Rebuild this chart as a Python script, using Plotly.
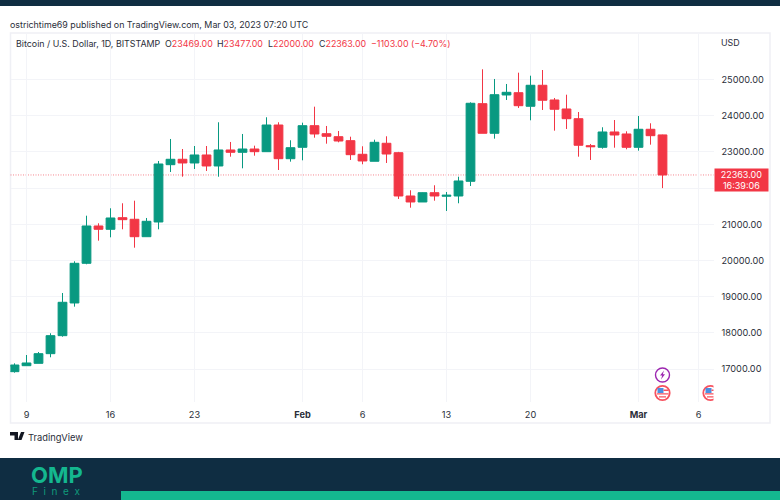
import pandas as pd
import plotly.graph_objects as go

W, H = 780, 500
GREEN = "#089981"
RED = "#F23645"
NAVY = "#0F2D42"
TEAL = "#14B78F"
GRID = "#F3F4F8"
FRAME = "#EFF0F5"
TEXT = "#2A2E39"
FONT = "Inter"

dates = pd.date_range("2023-01-08", "2023-03-03")
opens = [16930, 17095, 17160, 17427, 17924, 18827, 19923, 20954, 20862, 21183, 21139, 20658, 21064, 22647,
         22796, 22694, 22915, 22611, 23053, 22989, 23080, 23006, 23743, 22812, 23127, 23724, 23503, 23420,
         23310, 22934, 22741, 23238, 22978, 21782, 21617, 21873, 21775, 21782, 22188, 24332, 23514, 24572,
         24635, 24260, 24840, 24434, 24185, 23917, 23172, 23127, 23550, 23495, 23127, 23625, 23469]
highs = [17160, 17390, 17473, 17990, 19103, 19979, 21238, 21028, 21443, 21581, 21652, 21175, 22749, 23357,
         23080, 23163, 23163, 23818, 23274, 23495, 23172, 23956, 23818, 23321, 23807, 24249, 23716, 23578,
         23420, 23155, 23337, 23431, 23000, 21940, 21880, 22078, 21893, 22315, 24370, 25282, 25014, 24876,
         25188, 25105, 25262, 24489, 24580, 24102, 23219, 23680, 23881, 23569, 23992, 23790, 23477]
lows = [16902, 17095, 17160, 17327, 17896, 18725, 19896, 20548, 20641, 20862, 20354, 20658, 20862, 22445,
        22315, 22528, 22473, 22315, 22868, 22547, 22895, 23006, 22500, 22730, 22768, 23392, 23227, 23265,
        22777, 22658, 22741, 22694, 21700, 21459, 21617, 21652, 21368, 21581, 22058, 23514, 23365, 24434,
        24213, 23873, 24158, 23586, 23633, 22868, 22777, 23089, 23116, 23072, 23034, 23200, 22000]
closes = [17114, 17170, 17427, 17924, 18846, 19923, 20954, 20862, 21175, 21128, 20658, 21083, 22666, 22796,
          22694, 22915, 22611, 23053, 22989, 23080, 23006, 23743, 22812, 23116, 23724, 23495, 23431, 23301,
          22923, 22749, 23265, 22942, 21782, 21617, 21873, 21782, 21802, 22197, 24343, 23514, 24580, 24646,
          24276, 24840, 24426, 24177, 23917, 23183, 23144, 23550, 23467, 23127, 23625, 23448, 22363]

price_ticks = [17000, 18000, 19000, 20000, 21000, 22000, 23000, 24000, 25000]
# 22000 sits behind the last-price tag, so only its gridline shows
price_labels = ["17000.00", "18000.00", "19000.00", "20000.00", "21000.00", "", "23000.00", "24000.00", "25000.00"]
time_ticks = ["2023-01-09", "2023-01-16", "2023-01-23", "2023-02-01", "2023-02-06",
              "2023-02-13", "2023-02-20", "2023-03-01", "2023-03-06"]
time_labels = ["9", "16", "23", "<b>Feb</b>", "6", "13", "20", "<b>Mar</b>", "6"]
last_price = closes[-1]


def px(x):
    return x / W


def py(y):
    return 1 - y / H


def box(x0, y0, x1, y1, color, line=None, layer="below"):
    return dict(type="rect", xref="paper", yref="paper", x0=px(x0), x1=px(x1), y0=py(y0), y1=py(y1),
                fillcolor=color, line=line or dict(width=0), layer=layer)


def note(x, y, text, size=8.9, color=TEXT, anchor="left", family=FONT):
    return dict(xref="paper", yref="paper", x=px(x), y=py(y), text=text, showarrow=False, xanchor=anchor,
                yanchor="middle", align="left", font=dict(family=family, size=size, color=color), borderpad=0, borderwidth=0)


def poly(points, color):
    path = "M" + " L".join(f"{px(a):.5f},{py(b):.5f}" for a, b in points) + " Z"
    return dict(type="path", xref="paper", yref="paper", path=path, fillcolor=color, line=dict(width=0), layer="above")


def icon_circle(day, y, r, fill, edge, width):
    return dict(type="circle", xref="x", yref="paper", xsizemode="pixel", ysizemode="pixel", xanchor=day, yanchor=py(y),
                x0=-r, x1=r, y0=-r, y1=r, fillcolor=fill, line=dict(color=edge, width=width), layer="above")


def icon_rect(day, y, x0, x1, y0, y1, fill):
    return dict(type="rect", xref="x", yref="paper", xsizemode="pixel", ysizemode="pixel", xanchor=day, yanchor=py(y),
                x0=x0, x1=x1, y0=y0, y1=y1, fillcolor=fill, line=dict(width=0), layer="above")


def flag_icon(day, y):
    return [
        icon_circle(day, y, 7.2, "white", "#F7525F", 1.8),
        icon_rect(day, y, -5, 1, 0, 5, "#4A90E2"),
        icon_rect(day, y, 1, 6, 2, 3.5, "#F7525F"),
        icon_rect(day, y, -5.5, 6, -1.5, -0.2, "#F7525F"),
        icon_rect(day, y, -3.5, 3.5, -4.5, -3.3, "#F7525F"),
    ]


fig = go.Figure(go.Candlestick(
    x=dates, open=opens, high=highs, low=lows, close=closes,
    increasing=dict(line=dict(color=GREEN, width=1), fillcolor=GREEN),
    decreasing=dict(line=dict(color=RED, width=1), fillcolor=RED),
    whiskerwidth=0, showlegend=False,
))

shapes = [
    box(0, 0, W, 6, NAVY),
    box(0, 458, W, 500, NAVY),
    box(121, 491, W, 500, TEAL),
    box(10.5, 33, 770, 423, "rgba(0,0,0,0)", dict(color=FRAME, width=1.5)),
    dict(type="line", xref="paper", yref="y", x0=px(10.5), x1=px(713.5), y0=last_price, y1=last_price,
         line=dict(color="rgba(242,54,69,0.75)", width=0.8, dash="1px,1.5px"), layer="below"),
    # TradingView logo
    poly([(10, 432), (18, 432), (18, 440), (14.5, 440), (14.5, 435.5), (10, 435.5)], "#131722"),
    poly([(21, 432), (24.5, 432), (21.5, 440), (17.8, 440)], "#131722"),
    icon_circle("2023-03-03", 375, 7, "white", "#9C27B0", 1.4),
    dict(type="path", xref="x", yref="paper", xsizemode="pixel", ysizemode="pixel", xanchor="2023-03-03", yanchor=py(375),
         path="M1.5,4.5 L-2.5,-0.5 L-0.3,-0.5 L-1.5,-4.5 L2.5,0.8 L0.3,0.8 Z", fillcolor="#9C27B0", line=dict(width=0), layer="above"),
]
shapes += flag_icon("2023-03-03", 393)
shapes += flag_icon("2023-03-07", 393)


def red_part(s):
    return f'<span style="color:{RED}">{s}</span>'


annotations = [
    note(10, 24, "ostrichtime69 published on TradingView.com, Mar 03, 2023 07:20 UTC"),
    note(16, 44, "Bitcoin / U.S. Dollar, 1D, BITSTAMP"),
    note(165, 44, "O" + red_part("23469.00")),
    note(217, 44, "H" + red_part("23477.00")),
    note(268, 44, "L" + red_part("22000.00")),
    note(319, 44, "C" + red_part("22363.00")),
    note(371, 44, red_part("−1103.00 (−4.70%)")),
    note(721, 43, "USD"),
    note(28, 437, "TradingView", size=9.3),
    note(31, 475, "<b>OMP</b>", size=22, color=TEAL),
    note(32, 491, "F  i  n  e  x", size=10, color="#0F9A7A"),
    dict(xref="paper", yref="y", x=px(713.5), y=last_price, yshift=-5.5, xanchor="left", yanchor="middle",
         text="22363.00<br>16:39:06", showarrow=False, align="center", bgcolor=RED, width=53, height=22,
         borderpad=0, font=dict(family=FONT, size=9, color="white")),
]

fig.update_layout(
    width=W, height=H, margin=dict(l=0, r=0, t=0, b=0), paper_bgcolor="white", plot_bgcolor="white",
    font=dict(family=FONT, size=9.2, color=TEXT), boxgap=0.27, boxgroupgap=0,
    shapes=shapes, annotations=annotations,
    xaxis=dict(domain=[px(10.5), px(713.5)], type="date", range=["2023-01-07 16:00", "2023-03-07 06:00"],
               rangeslider=dict(visible=False), tickmode="array", tickvals=time_ticks, ticktext=time_labels,
               showgrid=True, gridcolor=GRID, gridwidth=1, showline=False, zeroline=False, ticks="", ticklabelstandoff=6),
    yaxis=dict(domain=[py(402), py(33)], side="right", range=[16092, 26284], tickmode="array", tickvals=price_ticks,
               ticktext=price_labels, showgrid=True, gridcolor=GRID, gridwidth=1, showline=False,
               zeroline=False, ticks="", ticklabelstandoff=7),
)

# the page's default body margin would push the 780x500 figure off the window
fig.write_html("out.html", config=dict(displayModeBar=False), post_script="document.body.style.margin = '0';")
